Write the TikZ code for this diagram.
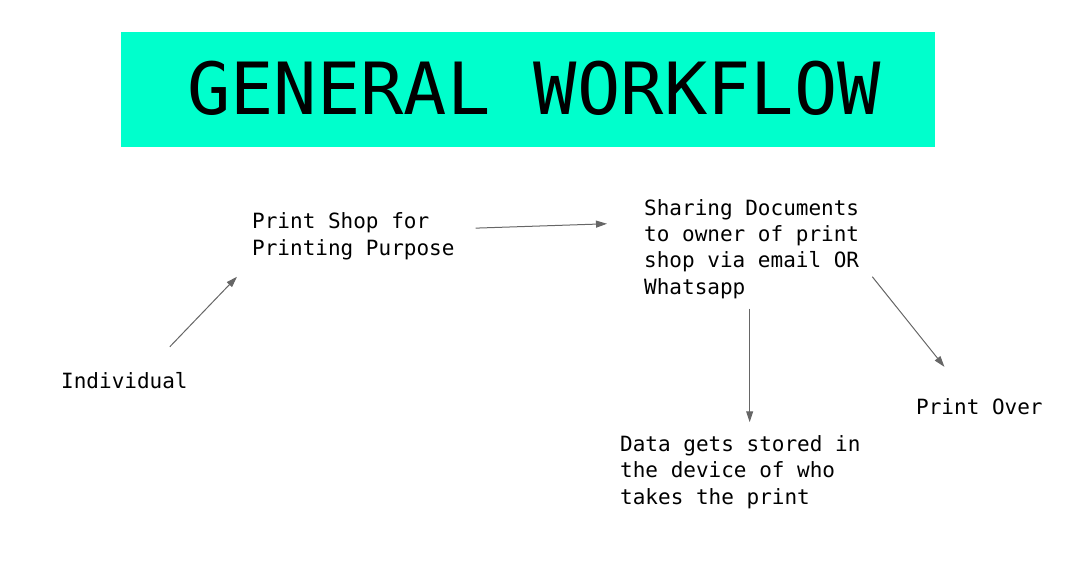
\documentclass[tikz,border=0pt]{standalone}
\usepackage{fontspec}
\newfontfamily\flowfont{DejaVu Sans Mono}
\usetikzlibrary{arrows.meta}
\definecolor{titlegreen}{HTML}{00FFCC}
\definecolor{arrowgray}{HTML}{666666}
\tikzset{
    steptext/.style={anchor=base west, inner sep=0pt, align=left,
        font=\flowfont\fontsize{21pt}{26.3pt}\selectfont},
    flowarrow/.style={draw=arrowgray, line width=1pt,
        -{Triangle[length=11pt,width=7pt]}, arrowgray}
}
\begin{document}
\begin{tikzpicture}[x=1pt,y=-1pt]
        \useasboundingbox (0,0) rectangle (1086,565);
        \node (titlebox) [fill=titlegreen, inner sep=0pt, minimum width=814pt, minimum height=115pt] at (528,89.5) {};
        \node (title) [inner sep=0pt, font=\flowfont\fontsize{72pt}{80pt}\selectfont] at ([xshift=6pt,yshift=1pt]titlebox.center) {GENERAL WORKFLOW};
        \node (individual) [steptext] at (61,388) {Individual};
        \node (printshop) [steptext] at (252,255) {Print Shop for\\Printing Purpose};
        \node (sharing) [steptext] at (644,294) {Sharing Documents\\to owner of print\\shop via email OR\\Whatsapp};
        \node (datastored) [steptext] at (620,504) {Data gets stored in\\the device of who\\takes the print};
        \node (printover) [steptext] at (916,414) {Print Over};
        \draw[flowarrow] ([xshift=-18pt,yshift=25pt]individual.north east) -- ([xshift=-15pt,yshift=-17pt]printshop.south west);
        \draw[flowarrow] ([xshift=21pt,yshift=8pt]printshop.east) -- ([xshift=-37pt,yshift=25pt]sharing.west);
        \draw[flowarrow] ([xshift=-2pt,yshift=-10pt]sharing.south) -- ([xshift=-2pt,yshift=13pt]sharing.south |- datastored.north);
        \draw[flowarrow] ([xshift=13pt,yshift=-28pt]sharing.east) -- ([xshift=-35pt,yshift=31pt]printover.north);
    \end{tikzpicture}
\end{document}
